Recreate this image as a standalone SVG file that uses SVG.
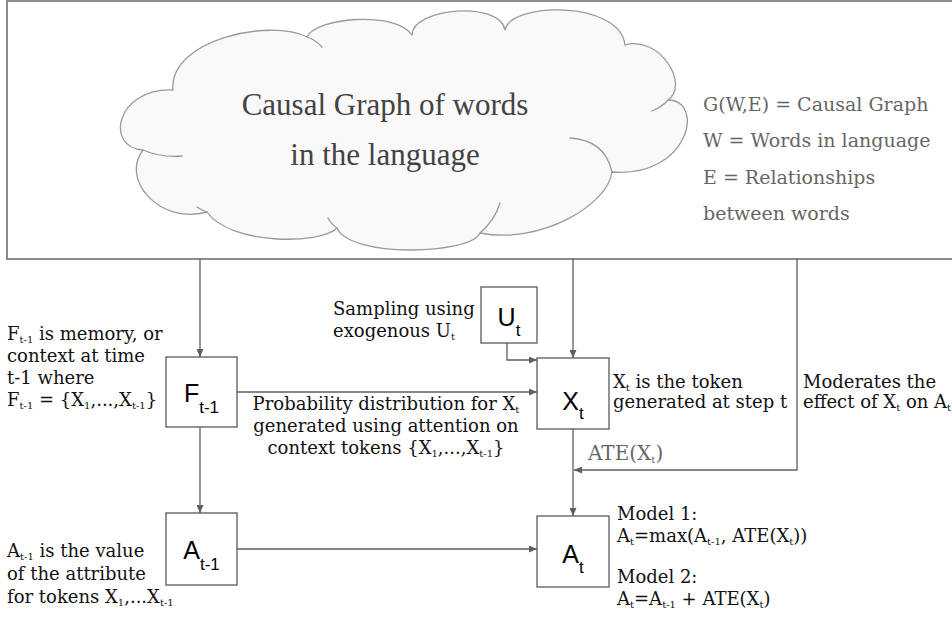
<svg xmlns="http://www.w3.org/2000/svg" width="952" height="619" viewBox="0 0 952 619">
<style>
.frame{fill:#ffffff;stroke:#8c8c8c;stroke-width:2}
.cloud{fill:#f9f9f9;stroke:#9a9a9a;stroke-width:1.3;stroke-linejoin:round}
.tail{fill:none;stroke:#9a9a9a;stroke-width:1.3;stroke-linecap:round}
.cloudtxt{font-family:"Liberation Serif","Times New Roman",serif;font-size:31px;fill:#434343}
.legend{font-family:"DejaVu Serif",serif;font-size:19px;fill:#666666}
.box{fill:#ffffff;stroke:#595959;stroke-width:1.3}
.ntxt{font-family:"Liberation Sans",Arial,sans-serif;font-size:25px;fill:#000000}
.nsub{font-size:17px}
.lbl{font-family:"DejaVu Serif",serif;font-size:18px;fill:#111111}
.sub{font-size:10px}
.ate{font-family:"DejaVu Serif",serif;font-size:20px;fill:#666666}
.conn{fill:none;stroke:#5f5f5f;stroke-width:1.3}
</style>
<defs>
<marker id="arr" markerUnits="userSpaceOnUse" markerWidth="8" markerHeight="7" refX="8" refY="3.5" orient="auto">
<path d="M0,0 L8,3.5 L0,7 z" fill="#5f5f5f"/>
</marker>
</defs>

<g id="causal-graph-region">
<rect class="frame" x="7" y="1" width="950" height="258"/>
</g>

<g id="cloud">
<path class="cloud" d="M173,90 C168,40 270,18 307,37 C315,18 395,10 412,35 C412,8 500,0 505,30 C510,2 620,0 625,45 C660,35 690,85 668,100 C705,100 690,178 612,172 C608,205 540,245 480,233 C470,255 350,258 337,228 C320,245 230,245 207,212 C160,225 120,180 143,150 C105,148 115,88 173,90 Z"/>
<path class="tail" d="M307,37 Q316,40 322,47"/>
<path class="tail" d="M668,100 Q662,107 652,111"/>
<path class="tail" d="M570,138 Q605,140 612,172"/>
<path class="tail" d="M480,233 Q495,220 500,203"/>
<path class="tail" d="M337,228 Q331,224 328,218"/>
<path class="tail" d="M207,212 Q201,210 197,207"/>
<path class="tail" d="M143,150 Q162,158 182,156"/>
<text class="cloudtxt" x="385" y="115" text-anchor="middle">Causal Graph of words</text>
<text class="cloudtxt" x="385" y="165" text-anchor="middle">in the language</text>
</g>

<g id="legend">
<text class="legend" x="703" y="111">G(W,E) = Causal Graph</text>
<text class="legend" x="703" y="147">W = Words in language</text>
<text class="legend" x="703" y="184">E = Relationships</text>
<text class="legend" x="703" y="220">between words</text>
</g>

<g id="connectors">
<path class="conn" d="M200,259 V357" marker-end="url(#arr)"/>
<path class="conn" d="M573,259 V358" marker-end="url(#arr)"/>
<path class="conn" d="M797,259 V470 H574" marker-end="url(#arr)"/>
<path class="conn" d="M507,343 V360 H537" marker-end="url(#arr)"/>
<path class="conn" d="M237,392 H537" marker-end="url(#arr)"/>
<path class="conn" d="M573,429 V516" marker-end="url(#arr)"/>
<path class="conn" d="M200,427 V513" marker-end="url(#arr)"/>
<path class="conn" d="M237,549 H537" marker-end="url(#arr)"/>
</g>

<g id="node-F">
<rect class="box" x="166" y="357" width="71" height="70"/>
<text class="ntxt" x="201.5" y="402" text-anchor="middle">F<tspan class="nsub" dy="11">t-1</tspan></text>
</g>

<g id="node-U">
<rect class="box" x="481" y="287" width="56" height="56"/>
<text class="ntxt" x="509" y="326" text-anchor="middle">U<tspan class="nsub" dy="10">t</tspan></text>
</g>

<g id="node-X">
<rect class="box" x="537" y="358" width="72" height="71"/>
<text class="ntxt" x="573" y="410" text-anchor="middle">X<tspan class="nsub" dy="9">t</tspan></text>
</g>

<g id="node-A-prev">
<rect class="box" x="166" y="513" width="71" height="72"/>
<text class="ntxt" x="201.5" y="559" text-anchor="middle">A<tspan class="nsub" dy="11">t-1</tspan></text>
</g>

<g id="node-A">
<rect class="box" x="537" y="516" width="72" height="71"/>
<text class="ntxt" x="573" y="563" text-anchor="middle">A<tspan class="nsub" dy="10">t</tspan></text>
</g>

<g id="labels">
<text class="lbl" x="7" y="340">F<tspan class="sub" dy="3">t-1</tspan><tspan dy="-3"> is memory, or</tspan></text>
<text class="lbl" x="7" y="362">context at time</text>
<text class="lbl" x="7" y="384">t-1 where</text>
<text class="lbl" x="7" y="406">F<tspan class="sub" dy="3">t-1</tspan><tspan dy="-3"> = {X</tspan><tspan class="sub" dy="3">1</tspan><tspan dy="-3">,...,X</tspan><tspan class="sub" dy="3">t-1</tspan><tspan dy="-3">}</tspan></text>

<text class="lbl" x="333" y="315">Sampling using</text>
<text class="lbl" x="333" y="337">exogenous U<tspan class="sub" dy="3">t</tspan></text>

<text class="lbl" x="386" y="410" text-anchor="middle">Probability distribution for X<tspan class="sub" dy="3">t</tspan></text>
<text class="lbl" x="386" y="432" text-anchor="middle">generated using attention on</text>
<text class="lbl" x="386" y="454" text-anchor="middle">context tokens {X<tspan class="sub" dy="3">1</tspan><tspan dy="-3">,...,X</tspan><tspan class="sub" dy="3">t-1</tspan><tspan dy="-3">}</tspan></text>

<text class="lbl" x="613" y="388">X<tspan class="sub" dy="3">t</tspan><tspan dy="-3"> is the token</tspan></text>
<text class="lbl" x="613" y="408">generated at step t</text>

<text class="lbl" x="803" y="388">Moderates the</text>
<text class="lbl" x="803" y="408">effect of X<tspan class="sub" dy="3">t</tspan><tspan dy="-3"> on A</tspan><tspan class="sub" dy="3">t</tspan></text>

<text class="ate" x="588" y="460">ATE(X<tspan class="sub" dy="3">t</tspan><tspan dy="-3">)</tspan></text>

<text class="lbl" x="617" y="520">Model 1:</text>
<text class="lbl" x="617" y="542">A<tspan class="sub" dy="3">t</tspan><tspan dy="-3">=max(A</tspan><tspan class="sub" dy="3">t-1</tspan><tspan dy="-3">, ATE(X</tspan><tspan class="sub" dy="3">t</tspan><tspan dy="-3">))</tspan></text>
<text class="lbl" x="617" y="583">Model 2:</text>
<text class="lbl" x="617" y="605">A<tspan class="sub" dy="3">t</tspan><tspan dy="-3">=A</tspan><tspan class="sub" dy="3">t-1</tspan><tspan dy="-3"> + ATE(X</tspan><tspan class="sub" dy="3">t</tspan><tspan dy="-3">)</tspan></text>

<text class="lbl" x="7" y="557">A<tspan class="sub" dy="3">t-1</tspan><tspan dy="-3"> is the value</tspan></text>
<text class="lbl" x="7" y="580">of the attribute</text>
<text class="lbl" x="7" y="603">for tokens X<tspan class="sub" dy="3">1</tspan><tspan dy="-3">,...X</tspan><tspan class="sub" dy="3">t-1</tspan></text>
</g>
</svg>
